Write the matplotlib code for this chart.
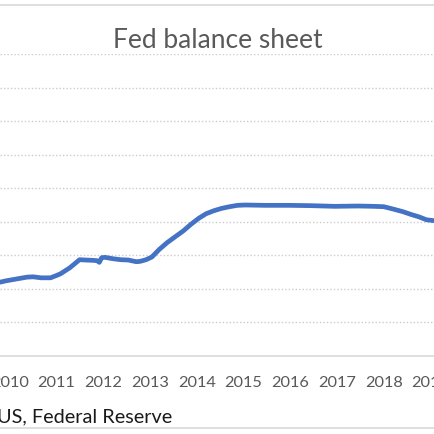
import datetime
import matplotlib
matplotlib.use("Agg")
import matplotlib.pyplot as plt
from matplotlib.lines import Line2D

# Fed balance sheet, total assets ($ trillion)
dates = ["2009-10-16", "2009-12-01", "2010-01-15", "2010-03-15", "2010-05-15",
         "2010-07-01", "2010-09-01", "2010-11-15", "2011-01-01", "2011-02-01",
         "2011-04-15", "2011-06-30", "2011-08-15", "2011-10-15", "2011-11-15",
         "2011-12-01", "2011-12-20", "2012-01-15", "2012-03-15", "2012-05-15",
         "2012-07-15", "2012-09-15", "2012-10-15", "2012-12-01", "2013-01-15",
         "2013-03-15", "2013-05-15", "2013-07-15", "2013-09-15", "2013-11-15",
         "2014-01-15", "2014-03-15", "2014-05-15", "2014-07-15", "2014-09-15",
         "2014-11-15", "2015-01-15", "2015-06-15", "2015-12-15", "2016-06-15",
         "2016-12-15", "2017-06-15", "2017-10-15", "2018-01-01", "2018-03-15",
         "2018-06-01", "2018-08-01", "2018-10-01", "2018-12-01", "2019-02-06"]
assets = [2.20, 2.24, 2.27, 2.31, 2.35,
          2.36, 2.33, 2.33, 2.40, 2.45,
          2.63, 2.87, 2.86, 2.85, 2.84,
          2.79, 2.93, 2.94, 2.90, 2.87,
          2.86, 2.81, 2.82, 2.87, 2.95,
          3.18, 3.38, 3.55, 3.72, 3.92,
          4.10, 4.24, 4.33, 4.40, 4.45,
          4.49, 4.50, 4.49, 4.49, 4.48,
          4.46, 4.47, 4.46, 4.45, 4.38,
          4.30, 4.22, 4.15, 4.06, 4.03]
years = list(range(2010, 2020))

x = [datetime.datetime.strptime(d, "%Y-%m-%d") for d in dates]

grey = "#595959"
light = "#D9D9D9"
plt.rcParams['font.family'] = ['Lato', 'DejaVu Sans']

fig = plt.figure(figsize=(4.35, 4.35), dpi=100)
ax = fig.add_axes([0, 1 - 357 / 435, 1, (357 - 55) / 435])

ax.plot(x, assets, color="#4472C4", linewidth=3.4, solid_capstyle="round",
        solid_joinstyle="round")

ax.set_xlim(datetime.datetime(2009, 10, 16), datetime.datetime(2019, 2, 6))
ax.set_ylim(0, 9)
ax.set_yticks(range(0, 10))
ax.yaxis.grid(True, color="#CCCCCC", linestyle=(0, (1, 1.5)), linewidth=1.0)
ax.set_axisbelow(True)
ax.tick_params(axis="y", left=False, labelleft=False)

ax.set_xticks([datetime.datetime(y, 1, 1) for y in years])
ax.set_xticklabels([str(y) for y in years])
ax.tick_params(axis="x", length=0, pad=13.5, labelsize=11.8, labelcolor=grey)

for s in ["top", "left", "right"]:
    ax.spines[s].set_visible(False)
ax.spines["bottom"].set_color(light)
ax.spines["bottom"].set_linewidth(1.2)

fig.text(0.5, 1 - 40 / 435, "Fed balance sheet", ha="center", va="center",
         fontsize=19, color=grey)
fig.text(-0.008, 1 - 417 / 435, "US, Federal Reserve", ha="left", va="center",
         fontsize=14.3, color="#1a1a1a")

# chart frame edges
fig.add_artist(Line2D([0, 1], [1 - 5.5 / 435, 1 - 5.5 / 435], color=light, linewidth=1.2))
fig.add_artist(Line2D([0, 1], [1 - 429 / 435, 1 - 429 / 435], color=light, linewidth=1.2))

fig.savefig("out.png", dpi=100)
